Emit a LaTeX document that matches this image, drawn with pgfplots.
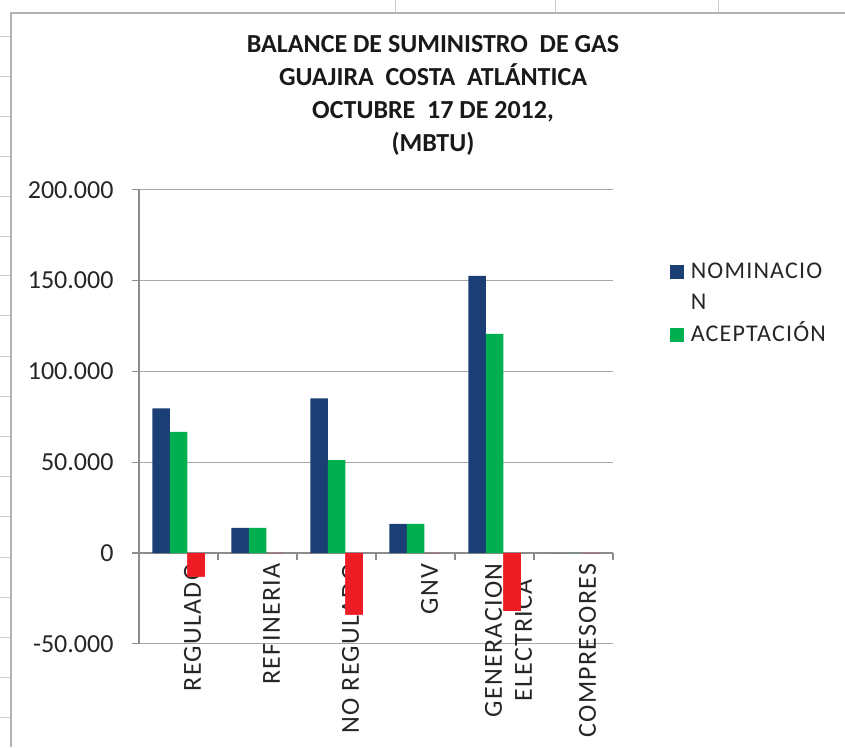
\documentclass[border=0pt]{standalone}
\usepackage{pgfplots}
\pgfplotsset{compat=1.18}
\usepackage{fontspec}
\setmainfont{Carlito}
\newfontfamily\xl[LetterSpace=5]{Carlito}
\definecolor{nomblue}{HTML}{1B3F74}
\definecolor{acegreen}{HTML}{00B050}
\definecolor{difred}{HTML}{ED1C24}
\definecolor{gridgray}{HTML}{A6A6A6}
\definecolor{axgray}{HTML}{8C8C8C}
\pgfplotstableread{
x nom ace dif
0 79700 66700 -13000
1 13800 13800 0
2 85200 51200 -34000
3 16000 16000 0
4 152600 120700 -31900
5 0 0 0
}\datatable
\begin{document}
\begin{tikzpicture}
\useasboundingbox (0pt,0pt) rectangle (845pt,747pt);
% spreadsheet background lines
\foreach \yy in {37,77,117,157,197,237,276,316,357,397,437,477,517,557,597,637,677,717}
  \draw[gray!40, line width=1pt] (0pt,747pt-\yy pt) -- (10pt,747pt-\yy pt);
\foreach \xx in {395,555,718}
  \draw[gray!40, line width=1pt] (\xx pt,747pt) -- (\xx pt,734pt);
\draw[gray!60, line width=1.2pt] (11pt,0pt) -- (11pt,734pt) -- (845pt,734pt);
% title
\node[align=center, font=\fontsize{26}{33}\selectfont\bfseries, text=black!90] at (433pt,652pt)
  {BALANCE DE SUMINISTRO\ \ DE GAS\\GUAJIRA\ \ COSTA\ \ ATLÁNTICA\\OCTUBRE\ \ 17 DE 2012,\\(MBTU)};
\begin{axis}[
  at={(178.5pt,194pt)}, anchor=origin,
  scale only axis, width=474pt, height=454pt,
  xmin=-0.5, xmax=5.5, ymin=-50000, ymax=200000,
  ybar=0pt, bar width=17.5pt,
  axis y line*=left, axis x line*=middle,
  axis line style={axgray, line width=1.2pt, -},
  ytick={-50000,0,50000,100000,150000,200000},
  scaled y ticks=false,
  ymajorgrids, grid style={gridgray, line width=1.2pt},
  xtick={0,1,2,3,4,5},
  xticklabels={REGULADO,REFINERIA,NO REGULADO,GNV,GENERACION\\ELECTRICA,COMPRESORES},
  minor xtick={0.5,1.5,2.5,3.5,4.5,5.5},
  major x tick style={draw=none},
  minor x tick style={axgray, line width=1.2pt},
  minor tick length=7pt,
  major y tick style={axgray, line width=1.2pt},
  major tick length=7pt,
  tick align=outside,
  tick label style={color=black!85},
  xticklabel style={font=\xl\fontsize{26}{30}\selectfont, rotate=90, anchor=east, align=center, yshift=-14pt},
  yticklabel style={font=\fontsize{26}{30}\selectfont, xshift=-15pt},
  /pgf/number format/.cd, fixed, 1000 sep={.}, assume math mode=true,
  /pgfplots/.cd,
  legend image code/.code={\fill[#1, draw=none] (0pt,-7pt) rectangle (14pt,7pt);},
  legend style={draw=none, fill=none, at={(1.113,0.852)}, anchor=north west,
    font=\xl\fontsize{24}{29}\selectfont, row sep=5.5pt,
    nodes={inner ysep=1pt, inner xsep=7pt, text height=18pt, text depth=6pt, text=black!85}},
  legend cell align=left,
]
\addplot[fill=nomblue, draw=none] table[x=x, y=nom] {\datatable};
\addlegendentry{NOMINACIO}
\addlegendimage{empty legend}
\addlegendentry{N}
\addplot[fill=acegreen, draw=none] table[x=x, y=ace] {\datatable};
\addlegendentry{ACEPTACIÓN}
\addplot[fill=difred, draw=none] table[x=x, y=dif] {\datatable};
\end{axis}
% overlay: red bars drawn above the category labels, as in the reference
\begin{axis}[
  at={(178.5pt,194pt)}, anchor=origin,
  scale only axis, width=474pt, height=454pt,
  xmin=-0.5, xmax=5.5, ymin=-50000, ymax=200000,
  hide axis, ybar=0pt, bar width=17.5pt,
]
\addplot[fill=difred, draw=none, bar shift=17.5pt] table[x=x, y=dif] {\datatable};
\end{axis}
\end{tikzpicture}
\end{document}
